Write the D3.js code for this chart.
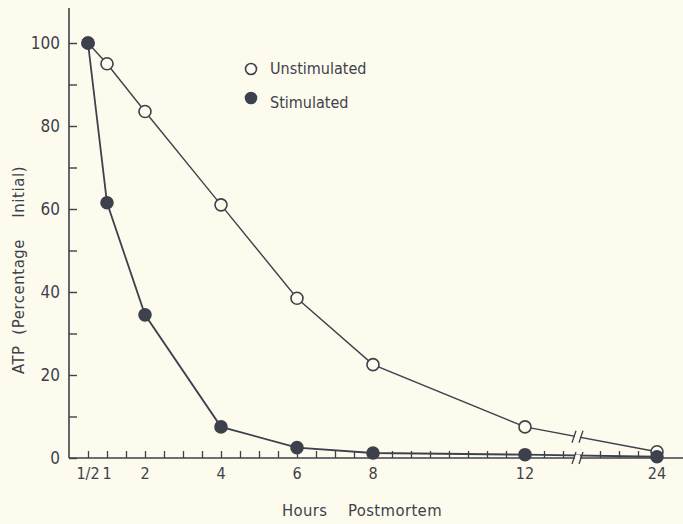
<!DOCTYPE html>
<html>
<head>
<meta charset="utf-8">
<script src="https://cdn.jsdelivr.net/npm/d3@7"></script>
<style>
  body { margin: 0; background: #fdfbee; }
  svg { display: block; }
  text { font-family: "DejaVu Sans Condensed", "Liberation Sans Narrow", sans-serif; fill: #3d414c; }
</style>
</head>
<body>
<script>
(function () {

var hours = [0.5, 1, 2, 4, 6, 8, 12, 24]
var unstimulated = [100, 95, 83.5, 61, 38.5, 22.5, 7.5, 1.5]
var stimulated = [100, 61.5, 34.5, 7.5, 2.5, 1.2, 0.8, 0.3]
var hourLabels = ["1/2", "1", "2", "4", "6", "8", "12", "24"]
var yTickValues = [0, 20, 40, 60, 80, 100]
var series = [
  { name: "Unstimulated", values: unstimulated, filled: false },
  { name: "Stimulated", values: stimulated, filled: true }
]

var width = 683,
    height = 524,
    ink = "#3d414c",
    paper = "#fdfbee"

var svg = d3.select("body")
  .append("svg")
  .attr("width", width)
  .attr("height", height)

svg.append("rect")
  .attr("width", width)
  .attr("height", height)
  .attr("fill", paper)

// broken axis: 13h jumps to 22h
var x = d3.scaleLinear().domain([0, 13, 22, 24]).range([69, 563, 581, 657])
var y = d3.scaleLinear().domain([0, 100]).range([458, 43])

var minorX = d3.range(0.5, 13.01, 0.5).concat([22.5, 23, 23.5])

var yAxis = svg.append("g")
  .attr("transform", "translate(" + x(0) + ",0)")
  .call(d3.axisRight(y).tickValues(d3.range(0, 101, 10)).tickSize(8).tickFormat(""))
yAxis.select(".domain").remove()
yAxis.selectAll("line").attr("stroke", ink).attr("stroke-width", 1.4)

svg.append("line")
  .attr("x1", x(0)).attr("x2", x(0))
  .attr("y1", 8).attr("y2", y(0))
  .attr("stroke", ink).attr("stroke-width", 1.6)

svg.selectAll(".ylab")
  .data(yTickValues)
  .enter().append("text")
  .attr("class", "ylab")
  .attr("x", x(0) - 9)
  .attr("y", function(d) { return y(d) + 6 })
  .attr("text-anchor", "end")
  .attr("font-size", 17)
  .text(function(d) { return d })

var xAxis = svg.append("g")
  .attr("transform", "translate(0," + y(0) + ")")
  .call(d3.axisTop(x).tickValues(minorX).tickSize(7).tickFormat(""))
xAxis.select(".domain").remove()
xAxis.selectAll("line").attr("stroke", ink).attr("stroke-width", 1.3)

svg.append("line")
  .attr("x1", x(0)).attr("x2", width)
  .attr("y1", y(0)).attr("y2", y(0))
  .attr("stroke", ink).attr("stroke-width", 1.6)

svg.selectAll(".xlab")
  .data(hours)
  .enter().append("text")
  .attr("class", "xlab")
  .attr("x", function(d) { return x(d) })
  .attr("y", 479)
  .attr("text-anchor", "middle")
  .attr("font-size", 16)
  .text(function(d, i) { return hourLabels[i] })

var line = d3.line()
  .x(function(d, i) { return x(hours[i]) })
  .y(function(d) { return y(d) })

svg.selectAll(".series")
  .data(series)
  .enter().append("path")
  .attr("class", "series")
  .attr("d", function(d) { return line(d.values) })
  .attr("fill", "none")
  .attr("stroke", ink)
  .attr("stroke-width", function(d) { return d.filled ? 1.8 : 1.4 })

// break marks on axis and unstimulated line
var breakX = [574, 581]
var unstimLine = d3.scaleLinear().domain([x(12), x(24)]).range([y(unstimulated[6]), y(unstimulated[7])])
var breakRows = [y(0), unstimLine(577)]
breakRows.forEach(function(by) {
  svg.append("rect")
    .attr("x", breakX[0] + 1).attr("y", by - 3)
    .attr("width", breakX[1] - breakX[0] - 2).attr("height", 6)
    .attr("fill", paper)
  breakX.forEach(function(bx) {
    svg.append("line")
      .attr("x1", bx - 2).attr("x2", bx + 2)
      .attr("y1", by + 6).attr("y2", by - 6)
      .attr("stroke", ink).attr("stroke-width", 1.3)
  })
})

series.forEach(function(s) {
  svg.selectAll(null)
    .data(s.values)
    .enter().append("circle")
    .attr("cx", function(d, i) { return x(hours[i]) })
    .attr("cy", function(d) { return y(d) })
    .attr("r", 6)
    .attr("fill", s.filled ? ink : paper)
    .attr("stroke", ink)
    .attr("stroke-width", 1.6)
})

var legend = svg.selectAll(".legend")
  .data(series)
  .enter().append("g")
  .attr("class", "legend")
  .attr("transform", function(d, i) { return "translate(251," + (69 + i * 29) + ")" })

legend.append("circle")
  .attr("r", 5.5)
  .attr("fill", function(d) { return d.filled ? ink : paper })
  .attr("stroke", ink)
  .attr("stroke-width", 1.6)

legend.append("text")
  .attr("x", 19)
  .attr("y", function(d, i) { return i ? 10 : 5 })
  .attr("font-size", 16)
  .text(function(d) { return d.name })

svg.append("text")
  .attr("transform", "translate(24,270) rotate(-90)")
  .attr("text-anchor", "middle")
  .attr("font-size", 16.5)
  .attr("letter-spacing", 0.6)
  .attr("xml:space", "preserve")
  .text("ATP  (Percentage    Initial)")

svg.append("text")
  .attr("x", 362)
  .attr("y", 516)
  .attr("text-anchor", "middle")
  .attr("font-size", 16.5)
  .attr("letter-spacing", 0.4)
  .attr("xml:space", "preserve")
  .text("Hours    Postmortem")

}) ()
</script>
</body>
</html>
